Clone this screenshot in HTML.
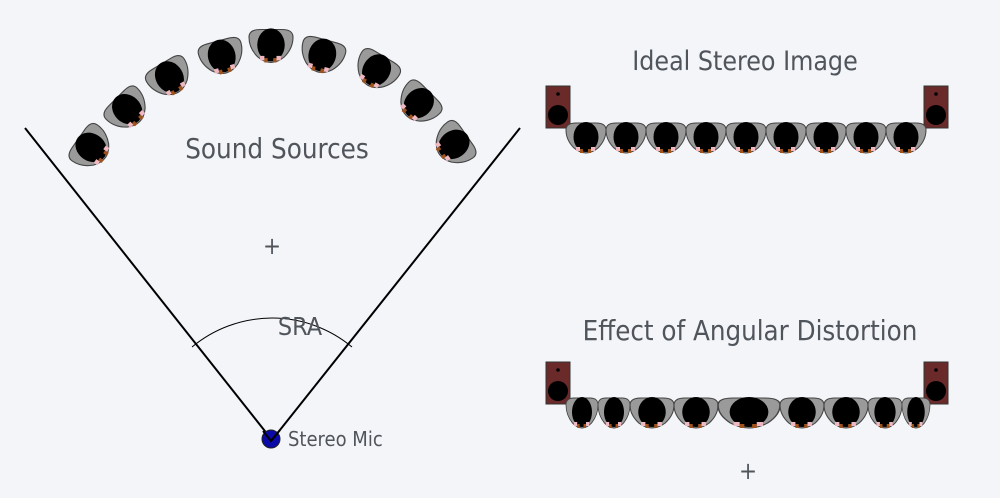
<!DOCTYPE html>
<html><head><meta charset="utf-8"><style>
html,body{margin:0;padding:0;background:#f3f5f9;}
svg{display:block}
text{font-family:"DejaVu Sans Condensed","Liberation Sans",sans-serif;fill:#50555c}
</style></head><body>
<svg width="1000" height="498" viewBox="0 0 1000 498" xmlns="http://www.w3.org/2000/svg">
<defs>
<g id="p">
<path d="M-20,-8 Q-20,-15 -10,-15 L10,-15 Q20,-15 20,-8 Q20,2 12,10 Q6,15 0,15 Q-6,15 -12,10 Q-20,2 -20,-8 Z" fill="#9a9a9a" stroke="#444" stroke-width="1"/>
<ellipse cx="0" cy="-1" rx="12.5" ry="15" fill="#000"/>
<rect x="-10" y="9" width="4" height="4" fill="#f0b8c0"/>
<rect x="-6" y="11" width="3" height="4" fill="#a0521c"/>
<rect x="5" y="9" width="4" height="4" fill="#f0b8c0"/>
<rect x="2" y="11" width="3" height="4" fill="#a0521c"/>
</g>
<g id="s">
<rect x="0" y="0" width="24" height="42" fill="#6b2a2a" stroke="#333" stroke-width="1"/>
<circle cx="12" cy="8" r="1.8" fill="#000"/>
<circle cx="12" cy="29" r="10" fill="#000"/>
</g>
</defs>
<line x1="25" y1="128" x2="272" y2="440" stroke="#000" stroke-width="2"/>
<line x1="520" y1="128" x2="272" y2="440" stroke="#000" stroke-width="2"/>
<path d="M192,347 A125,125 0 0 1 352,347" fill="none" stroke="#000" stroke-width="1"/>
<circle cx="271" cy="439" r="9" fill="#0a0aa8" stroke="#222" stroke-width="1"/>
<polyline points="263,431 271,441 280,430" fill="none" stroke="#000" stroke-width="2"/>
<text x="288" y="446" font-size="20">Stereo Mic</text>
<text x="300" y="335" font-size="25" text-anchor="middle">SRA</text>
<text x="277" y="158" font-size="27.5" text-anchor="middle">Sound Sources</text>
<text x="272" y="254" font-size="24" text-anchor="middle">+</text>
<use href="#p" transform="translate(92,148) rotate(-55) scale(1.1)"/>
<use href="#p" transform="translate(128,110) rotate(-45) scale(1.1)"/>
<use href="#p" transform="translate(170,78) rotate(-31) scale(1.1)"/>
<use href="#p" transform="translate(222,57) rotate(-15) scale(1.1)"/>
<use href="#p" transform="translate(271,46) scale(1.1)"/>
<use href="#p" transform="translate(322,56) rotate(15) scale(1.1)"/>
<use href="#p" transform="translate(376,71) rotate(31) scale(1.1)"/>
<use href="#p" transform="translate(418,104) rotate(45) scale(1.1)"/>
<use href="#p" transform="translate(453,145) rotate(55) scale(1.1)"/>
<text x="745" y="70" font-size="26.5" text-anchor="middle">Ideal Stereo Image</text>
<use href="#s" x="546" y="86"/>
<use href="#s" x="924" y="86"/>
<use href="#p" x="586" y="138"/><use href="#p" x="626" y="138"/><use href="#p" x="666" y="138"/>
<use href="#p" x="706" y="138"/><use href="#p" x="746" y="138"/><use href="#p" x="786" y="138"/>
<use href="#p" x="826" y="138"/><use href="#p" x="866" y="138"/><use href="#p" x="906" y="138"/>
<text x="750" y="340" font-size="27.4" text-anchor="middle">Effect of Angular Distortion</text>
<use href="#s" x="546" y="362"/>
<use href="#s" x="924" y="362"/>
<use href="#p" transform="translate(582,413) scale(0.8,1)"/>
<use href="#p" transform="translate(614,413) scale(0.8,1)"/>
<use href="#p" transform="translate(652,413) scale(1.1,1)"/>
<use href="#p" transform="translate(696,413) scale(1.1,1)"/>
<use href="#p" transform="translate(749,413) scale(1.55,1)"/>
<use href="#p" transform="translate(802,413) scale(1.1,1)"/>
<use href="#p" transform="translate(846,413) scale(1.1,1)"/>
<use href="#p" transform="translate(885,413) scale(0.85,1)"/>
<use href="#p" transform="translate(916,413) scale(0.7,1)"/>
<text x="748" y="479" font-size="24" text-anchor="middle">+</text>
</svg>
</body></html>
